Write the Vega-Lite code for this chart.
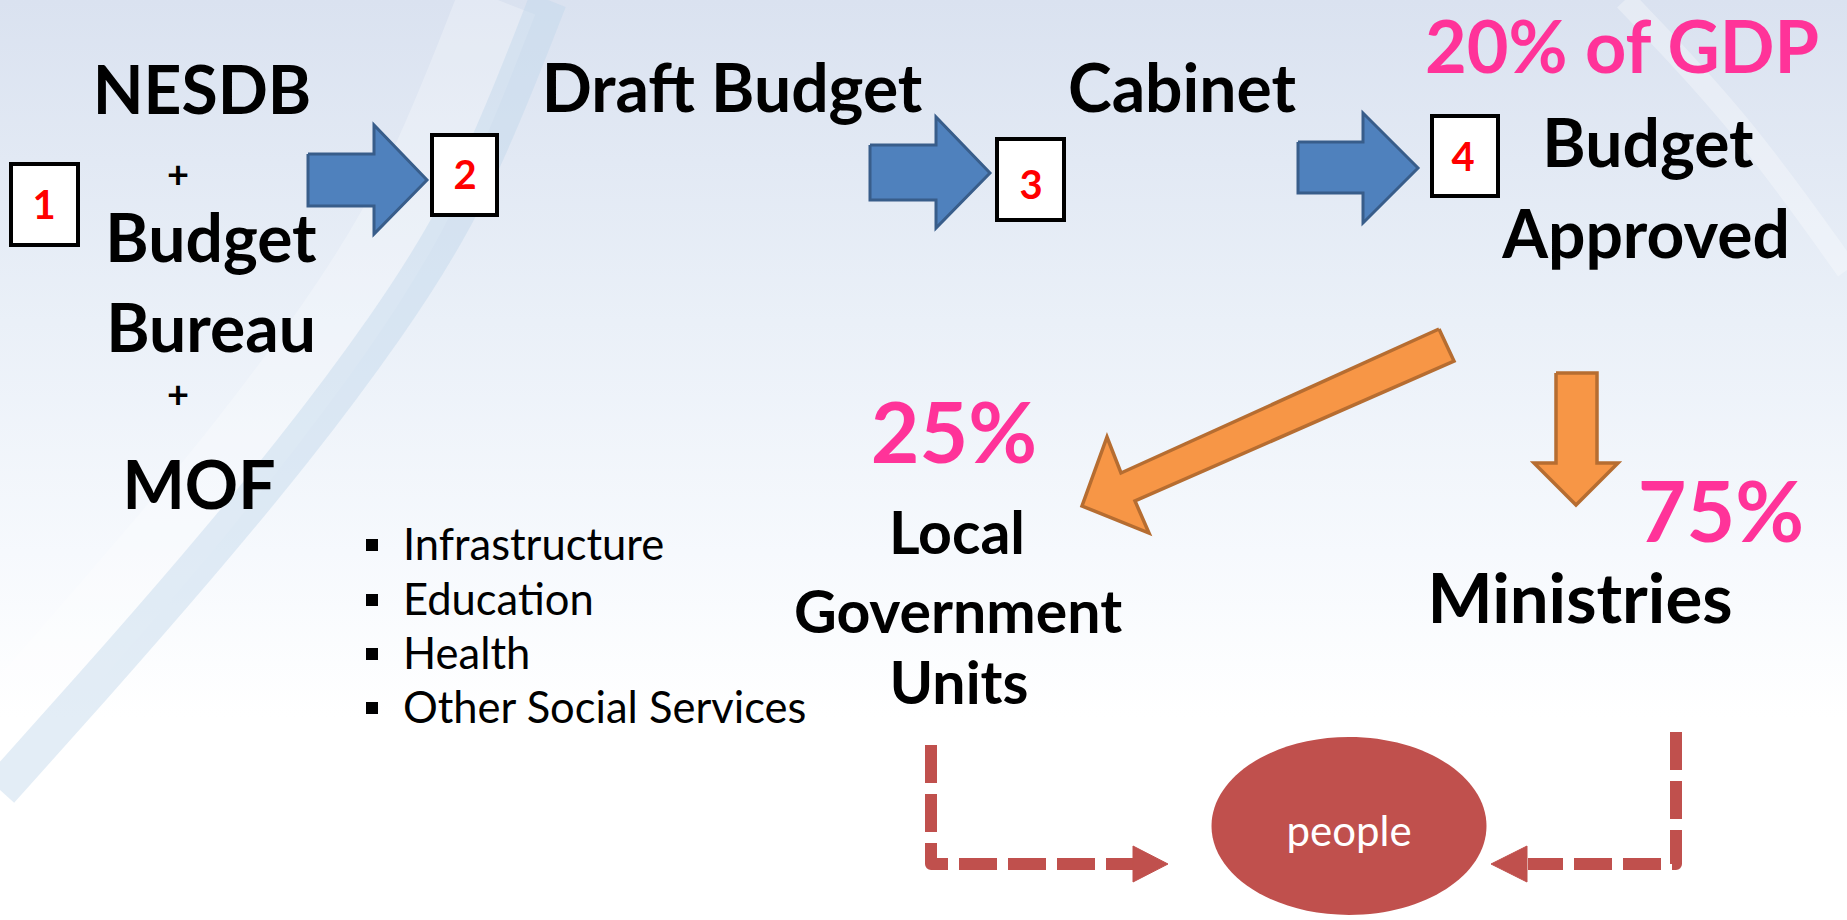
{
  "$schema": "https://vega.github.io/schema/vega-lite/v6.json",
  "width": 1847,
  "height": 920,
  "autosize": {"type": "none"},
  "padding": 0,
  "background": "white",
  "config": {"view": {"stroke": null}},
  "datasets": {
    "bg": [{"x": 0, "x2": 1847, "y": 0, "y2": 920}],
    "swoosh": [
      {"band": "left", "i": 0, "x": 548, "y": 0}, {"band": "left", "i": 1, "x": 470, "y": 200}, {"band": "left", "i": 2, "x": 385, "y": 330},
      {"band": "left", "i": 3, "x": 295, "y": 450}, {"band": "left", "i": 4, "x": 195, "y": 570}, {"band": "left", "i": 5, "x": 90, "y": 690},
      {"band": "left", "i": 6, "x": 0, "y": 790}
    ],
    "streak": [
      {"i": 0, "x": 1625, "y": 0}, {"i": 1, "x": 1740, "y": 120}, {"i": 2, "x": 1847, "y": 270}
    ],
    "polys": [
      {"id": "A1", "kind": "blue", "i": 0, "x": 308, "y": 154}, {"id": "A1", "kind": "blue", "i": 1, "x": 374, "y": 154},
      {"id": "A1", "kind": "blue", "i": 2, "x": 374, "y": 125}, {"id": "A1", "kind": "blue", "i": 3, "x": 427, "y": 180},
      {"id": "A1", "kind": "blue", "i": 4, "x": 374, "y": 234}, {"id": "A1", "kind": "blue", "i": 5, "x": 374, "y": 206},
      {"id": "A1", "kind": "blue", "i": 6, "x": 308, "y": 206}, {"id": "A1", "kind": "blue", "i": 7, "x": 308, "y": 154},
      {"id": "A2", "kind": "blue", "i": 0, "x": 870, "y": 145}, {"id": "A2", "kind": "blue", "i": 1, "x": 936, "y": 145},
      {"id": "A2", "kind": "blue", "i": 2, "x": 936, "y": 117}, {"id": "A2", "kind": "blue", "i": 3, "x": 990, "y": 173},
      {"id": "A2", "kind": "blue", "i": 4, "x": 936, "y": 228}, {"id": "A2", "kind": "blue", "i": 5, "x": 936, "y": 200},
      {"id": "A2", "kind": "blue", "i": 6, "x": 870, "y": 200}, {"id": "A2", "kind": "blue", "i": 7, "x": 870, "y": 145},
      {"id": "A3", "kind": "blue", "i": 0, "x": 1298, "y": 142}, {"id": "A3", "kind": "blue", "i": 1, "x": 1363, "y": 142},
      {"id": "A3", "kind": "blue", "i": 2, "x": 1363, "y": 113}, {"id": "A3", "kind": "blue", "i": 3, "x": 1418, "y": 168},
      {"id": "A3", "kind": "blue", "i": 4, "x": 1363, "y": 223}, {"id": "A3", "kind": "blue", "i": 5, "x": 1363, "y": 193},
      {"id": "A3", "kind": "blue", "i": 6, "x": 1298, "y": 193}, {"id": "A3", "kind": "blue", "i": 7, "x": 1298, "y": 142},
      {"id": "O1", "kind": "orange", "i": 0, "x": 1439, "y": 329}, {"id": "O1", "kind": "orange", "i": 1, "x": 1454, "y": 361},
      {"id": "O1", "kind": "orange", "i": 2, "x": 1135, "y": 501}, {"id": "O1", "kind": "orange", "i": 3, "x": 1149, "y": 533},
      {"id": "O1", "kind": "orange", "i": 4, "x": 1082, "y": 506}, {"id": "O1", "kind": "orange", "i": 5, "x": 1107, "y": 437},
      {"id": "O1", "kind": "orange", "i": 6, "x": 1121, "y": 473}, {"id": "O1", "kind": "orange", "i": 7, "x": 1439, "y": 329},
      {"id": "O2", "kind": "orange", "i": 0, "x": 1556, "y": 373}, {"id": "O2", "kind": "orange", "i": 1, "x": 1597, "y": 373},
      {"id": "O2", "kind": "orange", "i": 2, "x": 1597, "y": 463}, {"id": "O2", "kind": "orange", "i": 3, "x": 1618, "y": 463},
      {"id": "O2", "kind": "orange", "i": 4, "x": 1576, "y": 505}, {"id": "O2", "kind": "orange", "i": 5, "x": 1534, "y": 463},
      {"id": "O2", "kind": "orange", "i": 6, "x": 1556, "y": 463}, {"id": "O2", "kind": "orange", "i": 7, "x": 1556, "y": 373},
      {"id": "R1", "kind": "red", "i": 0, "x": 1133, "y": 846}, {"id": "R1", "kind": "red", "i": 1, "x": 1168, "y": 864},
      {"id": "R1", "kind": "red", "i": 2, "x": 1133, "y": 882}, {"id": "R1", "kind": "red", "i": 3, "x": 1133, "y": 846},
      {"id": "R2", "kind": "red", "i": 0, "x": 1527, "y": 846}, {"id": "R2", "kind": "red", "i": 1, "x": 1491, "y": 864},
      {"id": "R2", "kind": "red", "i": 2, "x": 1527, "y": 882}, {"id": "R2", "kind": "red", "i": 3, "x": 1527, "y": 846}
    ],
    "dashes": [
      {"id": "D1", "i": 0, "x": 931, "y": 745}, {"id": "D1", "i": 1, "x": 931, "y": 864}, {"id": "D1", "i": 2, "x": 1134, "y": 864},
      {"id": "D2", "i": 0, "x": 1676, "y": 732}, {"id": "D2", "i": 1, "x": 1676, "y": 864}, {"id": "D2", "i": 2, "x": 1528, "y": 864}
    ],
    "boxes": [
      {"id": "1", "x": 11, "x2": 78, "y": 164, "y2": 245},
      {"id": "2", "x": 432, "x2": 497, "y": 135, "y2": 215},
      {"id": "3", "x": 997, "x2": 1064, "y": 139, "y2": 220},
      {"id": "4", "x": 1432, "x2": 1498, "y": 116, "y2": 196}
    ],
    "people": [{"x": 1349, "y": 826}],
    "bullets": [
      {"x": 372, "y": 545}, {"x": 372, "y": 600}, {"x": 372, "y": 654}, {"x": 372, "y": 708}
    ],
    "texts": [
      {"role": "label", "text": "NESDB", "x": 202, "y": 114},
      {"role": "label", "text": "Budget", "x": 211, "y": 262},
      {"role": "label", "text": "Bureau", "x": 211, "y": 352},
      {"role": "label", "text": "MOF", "x": 199, "y": 509},
      {"role": "label", "text": "Draft Budget", "x": 732, "y": 112},
      {"role": "label", "text": "Cabinet", "x": 1182, "y": 112},
      {"role": "label", "text": "Budget", "x": 1648, "y": 167},
      {"role": "label", "text": "Approved", "x": 1646, "y": 258},
      {"role": "big", "text": "Ministries", "x": 1580, "y": 623},
      {"role": "lgu", "text": "Local", "x": 957, "y": 554},
      {"role": "lgu", "text": "Government", "x": 958, "y": 633},
      {"role": "lgu", "text": "Units", "x": 959, "y": 704},
      {"role": "pct", "text": "25%", "x": 954, "y": 463},
      {"role": "pct", "text": "75%", "x": 1721, "y": 542},
      {"role": "gdp", "text": "20% of GDP", "x": 1622, "y": 73},
      {"role": "plus", "text": "+", "x": 178, "y": 188},
      {"role": "plus", "text": "+", "x": 178, "y": 408},
      {"role": "num", "text": "1", "x": 44, "y": 219},
      {"role": "num", "text": "2", "x": 465, "y": 189},
      {"role": "num", "text": "3", "x": 1031, "y": 199},
      {"role": "num", "text": "4", "x": 1463, "y": 171},
      {"role": "list", "text": "Infrastructure", "x": 403, "y": 560},
      {"role": "list", "text": "Education", "x": 403, "y": 615},
      {"role": "list", "text": "Health", "x": 403, "y": 669},
      {"role": "list", "text": "Other Social Services", "x": 403, "y": 723},
      {"role": "people", "text": "people", "x": 1349, "y": 846}
    ]
  },
  "encoding": {
    "x": {"field": "x", "type": "quantitative", "scale": {"domain": [0, 1847], "nice": false, "zero": false}, "axis": null},
    "y": {"field": "y", "type": "quantitative", "scale": {"domain": [0, 920], "nice": false, "zero": false, "reverse": true}, "axis": null}
  },
  "layer": [
    {
      "data": {"name": "bg"},
      "mark": {"type": "rect", "fill": {"gradient": "linear", "x1": 0, "y1": 0, "x2": 0, "y2": 1, "stops": [
        {"offset": 0, "color": "#DAE2F0"}, {"offset": 0.35, "color": "#EAF0F8"}, {"offset": 0.6, "color": "#F6F9FD"}, {"offset": 0.78, "color": "#FFFFFF"}, {"offset": 1, "color": "#FFFFFF"}]}},
      "encoding": {"x2": {"field": "x2"}, "y2": {"field": "y2"}}
    },
    {
      "data": {"name": "swoosh"},
      "mark": {"type": "line", "interpolate": "basis", "stroke": "#FFFFFF", "strokeWidth": 80, "opacity": 0.25, "xOffset": -50},
      "encoding": {"order": {"field": "i", "type": "quantitative"}}
    },
    {
      "data": {"name": "swoosh"},
      "mark": {"type": "line", "interpolate": "basis", "stroke": "#C2D6EC", "strokeWidth": 38, "opacity": 0.45},
      "encoding": {"order": {"field": "i", "type": "quantitative"}}
    },
    {
      "data": {"name": "streak"},
      "mark": {"type": "line", "interpolate": "basis", "stroke": "#FFFFFF", "strokeWidth": 22, "opacity": 0.3},
      "encoding": {"order": {"field": "i", "type": "quantitative"}}
    },
    {
      "data": {"name": "polys"},
      "transform": [{"filter": "datum.kind === 'blue'"}],
      "mark": {"type": "line", "fill": "#4F81BD", "stroke": "#385D8A", "strokeWidth": 3, "strokeJoin": "miter"},
      "encoding": {"detail": {"field": "id"}, "order": {"field": "i", "type": "quantitative"}}
    },
    {
      "data": {"name": "polys"},
      "transform": [{"filter": "datum.kind === 'orange'"}],
      "mark": {"type": "line", "fill": "#F79646", "stroke": "#B66D31", "strokeWidth": 3.5, "strokeJoin": "miter"},
      "encoding": {"detail": {"field": "id"}, "order": {"field": "i", "type": "quantitative"}}
    },
    {
      "data": {"name": "boxes"},
      "mark": {"type": "rect", "fill": "#FFFFFF", "stroke": "#000000", "strokeWidth": 4},
      "encoding": {"x2": {"field": "x2"}, "y2": {"field": "y2"}}
    },
    {
      "data": {"name": "dashes"},
      "mark": {"type": "line", "stroke": "#C0504D", "strokeWidth": 12, "strokeDash": [38, 11], "strokeCap": "butt", "strokeJoin": "round"},
      "encoding": {"detail": {"field": "id"}, "order": {"field": "i", "type": "quantitative"}}
    },
    {
      "data": {"name": "polys"},
      "transform": [{"filter": "datum.kind === 'red'"}],
      "mark": {"type": "line", "fill": "#C0504D", "stroke": "#C0504D", "strokeWidth": 1},
      "encoding": {"detail": {"field": "id"}, "order": {"field": "i", "type": "quantitative"}}
    },
    {
      "data": {"name": "people"},
      "mark": {"type": "point", "shape": "M -1 0 A 1 0.647 0 1 1 1 0 A 1 0.647 0 1 1 -1 0 Z", "size": 75625, "filled": true, "color": "#C0504D", "opacity": 1, "strokeWidth": 0}
    },
    {
      "data": {"name": "bullets"},
      "mark": {"type": "point", "shape": "square", "size": 145, "filled": true, "color": "#000000", "opacity": 1, "strokeWidth": 0}
    },
    {
      "data": {"name": "texts"},
      "transform": [{"filter": "datum.role === 'label'"}],
      "mark": {"type": "text", "font": "Lato", "fontWeight": "bold", "fontSize": 66, "color": "#000000", "align": "center", "baseline": "alphabetic"},
      "encoding": {"text": {"field": "text"}}
    },
    {
      "data": {"name": "texts"},
      "transform": [{"filter": "datum.role === 'big'"}],
      "mark": {"type": "text", "font": "Lato", "fontWeight": "bold", "fontSize": 69, "color": "#000000", "align": "center", "baseline": "alphabetic"},
      "encoding": {"text": {"field": "text"}}
    },
    {
      "data": {"name": "texts"},
      "transform": [{"filter": "datum.role === 'lgu'"}],
      "mark": {"type": "text", "font": "Lato", "fontWeight": "bold", "fontSize": 59, "color": "#000000", "align": "center", "baseline": "alphabetic"},
      "encoding": {"text": {"field": "text"}}
    },
    {
      "data": {"name": "texts"},
      "transform": [{"filter": "datum.role === 'pct'"}],
      "mark": {"type": "text", "font": "Lato", "fontWeight": "bold", "fontSize": 84, "color": "#FF3399", "align": "center", "baseline": "alphabetic"},
      "encoding": {"text": {"field": "text"}}
    },
    {
      "data": {"name": "texts"},
      "transform": [{"filter": "datum.role === 'gdp'"}],
      "mark": {"type": "text", "font": "Lato", "fontWeight": "bold", "fontSize": 72, "color": "#FF3399", "align": "center", "baseline": "alphabetic"},
      "encoding": {"text": {"field": "text"}}
    },
    {
      "data": {"name": "texts"},
      "transform": [{"filter": "datum.role === 'plus'"}],
      "mark": {"type": "text", "font": "Lato", "fontWeight": "bold", "fontSize": 38, "color": "#000000", "align": "center", "baseline": "alphabetic"},
      "encoding": {"text": {"field": "text"}}
    },
    {
      "data": {"name": "texts"},
      "transform": [{"filter": "datum.role === 'num'"}],
      "mark": {"type": "text", "font": "Lato", "fontWeight": "bold", "fontSize": 40, "color": "#FF0000", "align": "center", "baseline": "alphabetic"},
      "encoding": {"text": {"field": "text"}}
    },
    {
      "data": {"name": "texts"},
      "transform": [{"filter": "datum.role === 'list'"}],
      "mark": {"type": "text", "font": "Lato", "fontWeight": "normal", "fontSize": 43.5, "color": "#000000", "align": "left", "baseline": "alphabetic"},
      "encoding": {"text": {"field": "text"}}
    },
    {
      "data": {"name": "texts"},
      "transform": [{"filter": "datum.role === 'people'"}],
      "mark": {"type": "text", "font": "Lato", "fontWeight": "normal", "fontSize": 42, "color": "#FFFFFF", "align": "center", "baseline": "alphabetic"},
      "encoding": {"text": {"field": "text"}}
    }
  ]
}
